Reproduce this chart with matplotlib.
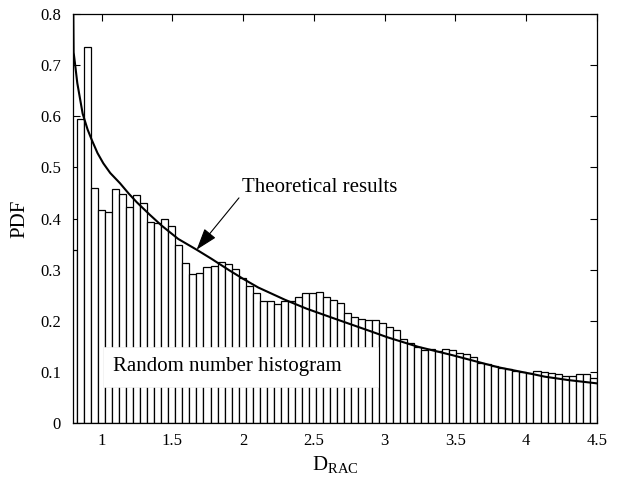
import numpy as np
import matplotlib
matplotlib.use("Agg")
import matplotlib.pyplot as plt
from matplotlib.patches import Rectangle

# histogram bar heights (75 bins from ~0.776 to 4.5)
hist_heights = [
    0.339, 0.594, 0.735, 0.459, 0.417, 0.4135, 0.457, 0.448, 0.423, 0.446,
    0.430, 0.393, 0.391, 0.3986, 0.3855, 0.348, 0.3125, 0.2916, 0.294, 0.3047,
    0.307, 0.3145, 0.311, 0.302, 0.283, 0.268, 0.254, 0.2387, 0.2387, 0.233,
    0.2387, 0.2387, 0.246, 0.254, 0.2538, 0.2557, 0.247, 0.2407, 0.2355, 0.2146,
    0.208, 0.204, 0.2016, 0.2016, 0.195, 0.187, 0.182, 0.164, 0.157, 0.149,
    0.143, 0.1454, 0.1415, 0.1454, 0.143, 0.1376, 0.135, 0.1285, 0.118, 0.1155,
    0.1115, 0.107, 0.105, 0.102, 0.0998, 0.097, 0.102, 0.0998, 0.0985, 0.0953,
    0.092, 0.092, 0.0953, 0.0953, 0.0874,
]
bin_start = 0.776
bin_end = 4.5

# theoretical PDF curve
theory_x = [0.799, 0.801, 0.81, 0.827, 0.865, 0.90, 0.929, 0.97, 1.011, 1.06,
            1.129, 1.19, 1.247, 1.341, 1.424, 1.541, 1.671, 1.777, 1.90, 2.0,
            2.107, 2.296, 2.45, 2.673, 2.909, 3.02, 3.238, 3.475, 3.59, 3.804,
            4.05, 4.134, 4.299, 4.5]
theory_y = [0.80, 0.725, 0.705, 0.665, 0.605, 0.574, 0.554, 0.528, 0.508, 0.489,
            0.469, 0.449, 0.432, 0.407, 0.386, 0.36, 0.339, 0.321, 0.299, 0.282,
            0.265, 0.241, 0.2235, 0.2016, 0.1787, 0.1677, 0.149, 0.133, 0.1246, 0.109,
            0.0955, 0.0906, 0.084, 0.0776]

x_ticks = [1, 1.5, 2, 2.5, 3, 3.5, 4, 4.5]
x_ticklabels = ["1", "1.5", "2", "2.5", "3", "3.5", "4", "4.5"]
y_ticks = [0, 0.1, 0.2, 0.3, 0.4, 0.5, 0.6, 0.7, 0.8]
y_ticklabels = ["0", "0.1", "0.2", "0.3", "0.4", "0.5", "0.6", "0.7", "0.8"]

plt.rcParams["font.family"] = ["Liberation Serif", "DejaVu Serif"]
plt.rcParams["mathtext.fontset"] = "custom"
plt.rcParams["mathtext.rm"] = "Liberation Serif"

fig = plt.figure(figsize=(6.2, 4.83), dpi=100)
ax = fig.add_axes([0.1185, 0.1242, 0.8439, 0.8468])

n_bins = len(hist_heights)
edges = np.linspace(bin_start, bin_end, n_bins + 1)
centers = (edges[:-1] + edges[1:]) / 2
width = edges[1] - edges[0]

ax.bar(centers, hist_heights, width=width, facecolor="white",
       edgecolor="black", linewidth=0.9, zorder=2)
ax.plot(theory_x, theory_y, color="black", linewidth=1.5, zorder=4)

# white label box over the bars
ax.add_patch(Rectangle((0.0564, 0.088), 0.5256, 0.0978, transform=ax.transAxes,
                       facecolor="white", edgecolor="#eeeeee", linewidth=0.5,
                       zorder=3))
ax.text(0.0755, 0.137, "Random number histogram", transform=ax.transAxes,
        fontsize=15, va="center", ha="left", zorder=5)

ax.annotate("Theoretical results", xy=(1.671, 0.339), xytext=(1.99, 0.46),
            fontsize=15, va="center", ha="left", zorder=5,
            arrowprops=dict(arrowstyle="-|>,head_length=0.9,head_width=0.3",
                            color="black", lw=0.8, shrinkA=0, shrinkB=0,
                            relpos=(0, 0.15)))

ax.set_xlim(0.8, 4.5)
ax.set_ylim(0, 0.8)
ax.set_xticks(x_ticks)
ax.set_xticklabels(x_ticklabels)
ax.set_yticks(y_ticks)
ax.set_yticklabels(y_ticklabels)
ax.tick_params(direction="in", top=True, right=True, length=5, width=0.8,
               labelsize=12)
ax.tick_params(axis="x", pad=7)
ax.tick_params(axis="y", pad=9)
for s in ax.spines.values():
    s.set_linewidth(0.9)
    s.set_zorder(6)

ax.set_xlabel(r"D$_{\mathrm{RAC}}$", fontsize=15, labelpad=4)
ax.set_ylabel("PDF", fontsize=15, labelpad=8)

fig.savefig("out.png", dpi=100)
